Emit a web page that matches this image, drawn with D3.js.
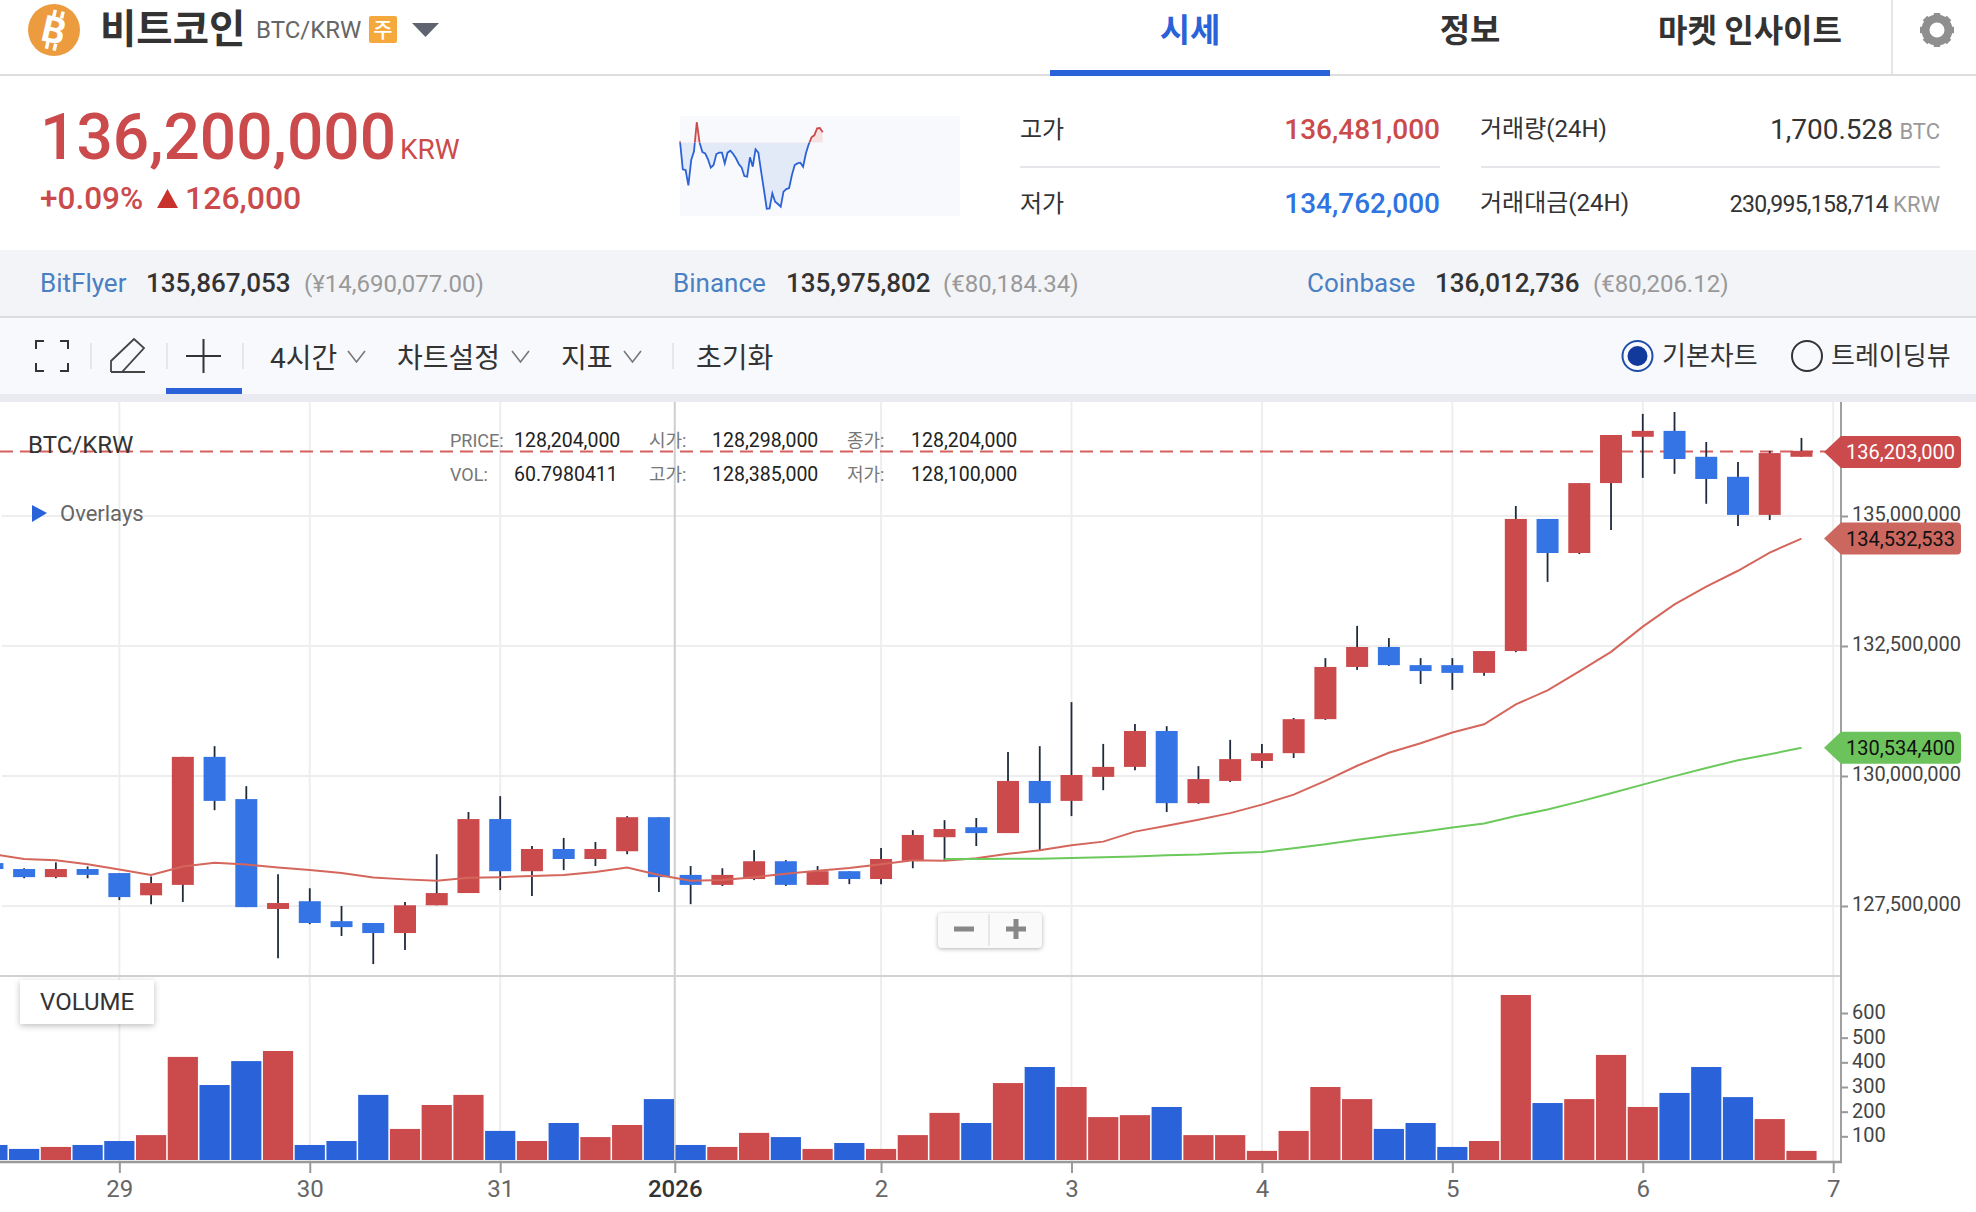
<!DOCTYPE html>
<html>
<head>
<meta charset="utf-8">
<script src="https://d3js.org/d3.v7.min.js"></script>
<style>
  html, body { margin: 0; padding: 0; background: #fff; }
  svg { display: block; }
  text { font-family: Roboto, "Noto Sans CJK KR", sans-serif; }
  .axis text { font-family: Roboto, sans-serif; }
</style>
</head>
<body>
<svg id="page" width="1976" height="1212"></svg>
<script>
// all prices in million KRW, one entry per 4h bar, bar 0 is cut by the left edge
const opens = [128.325,128.211,128.055,128.211,128.133,127.706,127.906,130.368,129.556,127.443,127.592,127.208,127.173,126.980,127.514,127.749,129.172,128.169,128.596,128.404,128.553,129.208,128.098,127.906,128.019,128.361,127.906,128.169,128.019,128.368,128.823,129.015,128.902,129.905,129.521,129.983,130.175,130.866,129.478,129.905,130.289,130.439,131.093,132.097,132.481,132.132,132.132,131.983,132.403,134.943,134.288,135.633,136.523,136.637,136.139,135.754,135.021,136.139];
const closes = [128.211,128.055,128.211,128.098,127.671,127.941,130.368,129.521,127.478,127.557,127.173,127.094,126.980,127.514,127.749,129.172,128.169,128.596,128.404,128.596,129.208,128.055,127.906,128.098,128.361,127.906,128.169,128.019,128.404,128.866,128.980,128.902,129.905,129.478,130.019,130.175,130.866,129.478,129.941,130.325,130.439,131.093,132.097,132.481,132.132,132.018,131.983,132.403,134.943,134.288,135.633,136.558,136.637,136.096,135.712,135.021,136.210,136.252];
const highs = [128.325,128.226,128.339,128.261,128.133,128.069,130.368,130.574,129.805,128.112,127.841,127.500,127.173,127.578,128.496,129.307,129.613,128.653,128.809,128.731,129.229,129.208,128.268,128.226,128.574,128.382,128.268,128.169,128.617,128.959,129.151,129.193,130.460,130.574,131.421,130.617,131.001,130.958,130.190,130.695,130.617,131.115,132.267,132.887,132.652,132.267,132.267,132.403,135.192,134.943,135.633,136.558,136.964,137.000,136.423,136.039,136.252,136.501];
const lows = [128.211,128.034,128.034,128.034,127.614,127.535,127.578,129.343,127.478,126.497,127.151,126.923,126.383,126.653,127.514,127.749,127.806,127.692,128.190,128.268,128.496,127.770,127.535,127.884,127.998,127.884,127.906,127.920,127.920,128.226,128.382,128.653,128.902,128.574,129.229,129.727,130.111,129.307,129.464,129.884,130.154,130.346,131.079,132.040,132.118,131.769,131.656,131.926,132.381,133.733,134.267,134.730,135.733,135.811,135.235,134.808,134.922,136.139];
const volumes = [65,49,57,65,81,105,422,308,405,446,65,81,268,130,227,268,122,81,154,97,146,251,65,57,114,97,49,73,49,105,195,154,316,381,300,178,186,219,105,105,41,122,300,251,130,154,57,81,673,235,251,430,219,276,381,259,170,41];
const maRed = [128.496,128.404,128.382,128.304,128.204,128.098,128.261,128.332,128.297,128.240,128.190,128.133,128.048,128.012,127.984,128.041,128.055,128.076,128.098,128.155,128.240,128.098,127.984,127.998,128.055,128.119,128.176,128.233,128.304,128.382,128.368,128.418,128.503,128.574,128.667,128.738,128.930,129.044,129.158,129.286,129.450,129.642,129.905,130.197,130.446,130.631,130.837,130.994,131.378,131.648,132.011,132.388,132.872,133.299,133.641,133.947,134.296,134.566];
const maGreenStart = 30;
const maGreen = [128.404,128.404,128.411,128.411,128.425,128.439,128.453,128.475,128.489,128.517,128.539,128.610,128.688,128.774,128.852,128.923,129.008,129.087,129.229,129.357,129.507,129.670,129.834,129.998,130.154,130.304,130.417,130.545];

const priceTicks = [135, 132.5, 130, 127.5];
const volumeTicks = [100, 200, 300, 400, 500, 600];
const dayTickBars = [4, 10, 16, 21.5, 28, 34, 40, 46, 52, 58];
const dayTickLabels = ['29', '30', '31', '2026', '2', '3', '4', '5', '6', '7'];

const sparkValues = [136.098,135.542,135.529,135.225,135.727,135.899,136.481,136.071,135.886,135.860,135.741,135.575,135.628,135.846,135.873,135.873,135.661,135.873,135.913,135.846,135.761,135.648,135.582,135.410,135.397,135.780,135.595,135.939,135.873,135.496,135.133,134.762,134.769,135.066,134.901,134.855,134.802,135.100,135.152,135.172,135.430,135.628,135.661,135.675,135.595,135.860,136.038,136.177,136.217,136.355,136.362,136.276];
const sparkPrevClose = 136.074;

const RED = '#cb4a4c', BLUE = '#3574e4', VOL_BLUE = '#2962d9', ACCENT = '#2962d9';
const KR = '"Noto Sans CJK KR", sans-serif';

const svg = d3.select('#page');

function label(x, y, str, o = {}) {
  return svg.append('text')
    .attr('x', x).attr('y', y)
    .attr('text-anchor', o.anchor || 'start')
    .attr('font-size', o.size || 24)
    .attr('font-weight', o.weight || 400)
    .attr('fill', o.fill || '#333')
    .style('font-family', o.family || null)
    .style('letter-spacing', o.spacing || null)
    .text(str);
}
function box(x, y, w, h, fill) {
  return svg.append('rect').attr('x', x).attr('y', y).attr('width', w).attr('height', h).attr('fill', fill);
}
function rule(x1, y1, x2, y2, stroke, width = 2) {
  return svg.append('line').attr('x1', x1).attr('y1', y1).attr('x2', x2).attr('y2', y2)
    .attr('stroke', stroke).attr('stroke-width', width);
}

// ---- header
box(0, 74, 1976, 2, '#dddddd');
svg.append('circle').attr('cx', 54).attr('cy', 30).attr('r', 26).attr('fill', '#ec9c3f');
const coin = svg.append('g').attr('transform', 'translate(54,30) rotate(13)');
coin.append('text').attr('text-anchor', 'middle').attr('y', 13).attr('font-size', 37).attr('font-weight', 700)
  .attr('fill', '#fff').text('B');
[[-5, -20], [3, -20], [-5, 13], [3, 13]].forEach(p => {
  coin.append('rect').attr('x', p[0]).attr('y', p[1]).attr('width', 3.5).attr('height', 7).attr('fill', '#fff');
});

label(100, 43, '비트코인', {size: 39.5, weight: 700, family: KR});
label(256, 38, 'BTC/KRW', {size: 24, fill: '#666'});
svg.append('rect').attr('x', 369).attr('y', 16).attr('width', 28).attr('height', 27).attr('rx', 2).attr('fill', '#f5a83b');
label(383, 37, '주', {size: 21, weight: 500, fill: '#fff', anchor: 'middle', family: KR});
svg.append('path').attr('d', 'M412,23H439L425.5,37Z').attr('fill', '#5f6470');

label(1190, 42, '시세', {size: 33, weight: 700, fill: ACCENT, anchor: 'middle', family: KR});
label(1470, 42, '정보', {size: 33, weight: 700, anchor: 'middle', family: KR});
label(1750, 42, '마켓 인사이트', {size: 32, weight: 700, anchor: 'middle', family: KR});
box(1050, 70, 280, 6, ACCENT);
rule(1892, 0, 1892, 74, '#dddddd', 1.5);

const gear = svg.append('g').attr('transform', 'translate(1937,30)');
gear.append('circle').attr('r', 11.5).attr('fill', 'none').attr('stroke', '#8f8f8f').attr('stroke-width', 8);
d3.range(8).forEach(i => {
  gear.append('rect').attr('x', -3.2).attr('y', -17).attr('width', 6.4).attr('height', 7).attr('fill', '#8f8f8f')
    .attr('transform', `rotate(${i * 45})`);
});

// ---- price summary
label(40, 159, '136,200,000', {size: 64, weight: 500, fill: RED});
label(400, 159, 'KRW', {size: 28, fill: RED});
label(40, 209, '+0.09%', {size: 31.5, weight: 500, fill: RED});
svg.append('path').attr('d', 'M167.5,189L178,208H157Z').attr('fill', '#c9322c');
label(185, 209, '126,000', {size: 32, weight: 500, fill: RED});

// sparkline
box(680, 116, 280, 100, '#f8f9fc');
const sx = d3.scaleLinear().domain([0, sparkValues.length - 1]).range([680, 822.7]);
const sy = d3.scaleLinear().domain([134.762, 136.481]).range([208.7, 122]);
const baseY = sy(sparkPrevClose);
const defs = svg.append('defs');
defs.append('clipPath').attr('id', 'sparkUp').append('rect').attr('x', 670).attr('y', 110).attr('width', 300).attr('height', baseY - 110);
defs.append('clipPath').attr('id', 'sparkDown').append('rect').attr('x', 670).attr('y', baseY).attr('width', 300).attr('height', 110);
const sparkArea = d3.area().x((d, i) => sx(i)).y0(baseY).y1(d => sy(d));
const sparkLine = d3.line().x((d, i) => sx(i)).y(d => sy(d));
[['sparkDown', '#e2e9f7', '#2b62d6'], ['sparkUp', '#f5e3e4', '#cb4a4c']].forEach(s => {
  const g = svg.append('g').attr('clip-path', `url(#${s[0]})`);
  g.append('path').datum(sparkValues).attr('d', sparkArea).attr('fill', s[1]);
  g.append('path').datum(sparkValues).attr('d', sparkLine).attr('fill', 'none').attr('stroke', s[2]).attr('stroke-width', 1.8);
});

// stats table
label(1020, 138, '고가', {size: 24, family: KR});
label(1440, 139, '136,481,000', {size: 28, weight: 500, fill: RED, anchor: 'end'});
box(1020, 166, 420, 2, '#e4e6ea');
label(1020, 212, '저가', {size: 24, family: KR});
label(1440, 213, '134,762,000', {size: 28, weight: 500, fill: '#2f74e0', anchor: 'end'});
label(1480, 137, '거래량(24H)', {size: 24});
label(1893, 139, '1,700.528', {size: 28, anchor: 'end'});
label(1940, 139, 'BTC', {size: 22, fill: '#999', anchor: 'end'});
box(1481, 166, 459, 2, '#e4e6ea');
label(1480, 211, '거래대금(24H)', {size: 24});
label(1888, 212, '230,995,158,714', {size: 23, anchor: 'end', spacing: '-0.7px'});
label(1940, 212, 'KRW', {size: 22, fill: '#999', anchor: 'end'});

// ---- exchange strip
box(0, 250, 1976, 66, '#f3f4f7');
box(0, 316, 1976, 2, '#dcdde1');
[[40, 146, 304, 'BitFlyer', '135,867,053', '(¥14,690,077.00)'],
 [673, 786, 943, 'Binance', '135,975,802', '(€80,184.34)'],
 [1307, 1435, 1593, 'Coinbase', '136,012,736', '(€80,206.12)']].forEach(r => {
  label(r[0], 292, r[3], {size: 26, fill: '#4a7fc4'});
  label(r[1], 292, r[4], {size: 26, weight: 500});
  label(r[2], 292, r[5], {size: 24, fill: '#999'});
});

// ---- toolbar
box(0, 318, 1976, 76, '#f8f9fc');
box(0, 394, 1976, 8, '#e9ebf0');
box(166, 388, 76, 6, ACCENT);
[91, 167, 243, 673].forEach(x => rule(x, 343, x, 369, '#dfe1e6', 1.5));
svg.append('path').attr('d', 'M36,349V341H44M60,341H68V349M36,363V371H44M60,371H68V363')
  .attr('fill', 'none').attr('stroke', '#333').attr('stroke-width', 2);
svg.append('path').attr('d', 'M111,372V361L134,339L144,348L122,372H111M111,372H145')
  .attr('fill', 'none').attr('stroke', '#444').attr('stroke-width', 1.8);
svg.append('path').attr('d', 'M186,356H221M203.5,339V373').attr('fill', 'none').attr('stroke', '#333').attr('stroke-width', 2);
label(270, 368, '4시간', {size: 28});
label(397, 368, '차트설정', {size: 28, family: KR});
label(561, 368, '지표', {size: 28, family: KR});
label(696, 368, '초기화', {size: 28, family: KR});
[[348, 365], [512, 529], [624, 641]].forEach(c => {
  svg.append('path').attr('d', `M${c[0]},351L${(c[0] + c[1]) / 2},362L${c[1]},351`)
    .attr('fill', 'none').attr('stroke', '#777').attr('stroke-width', 1.6);
});
svg.append('circle').attr('cx', 1637.5).attr('cy', 356).attr('r', 15).attr('fill', 'none').attr('stroke', '#1f4fa8').attr('stroke-width', 2);
svg.append('circle').attr('cx', 1637.5).attr('cy', 356).attr('r', 10).attr('fill', '#123a9c');
label(1662, 365, '기본차트', {size: 26, family: KR});
svg.append('circle').attr('cx', 1807).attr('cy', 356).attr('r', 15).attr('fill', 'none').attr('stroke', '#333').attr('stroke-width', 2);
label(1831, 365, '트레이딩뷰', {size: 26, family: KR});

// ---- chart scales
const x = d3.scaleLinear().domain([0, 58]).range([-7.6, 1833.2]);
const y = d3.scaleLinear().domain([127.5, 135]).range([906, 516]);
const yVol = d3.scaleLinear().domain([0, 600]).range([1161, 1013]);
const AXIS_X = 1841, PANE_TOP = 402, PANE_SPLIT = 976, BASE_Y = 1161;

// grid
priceTicks.forEach(v => rule(2, y(v), AXIS_X, y(v), '#eeeeee'));
dayTickBars.forEach((b, i) => {
  rule(x(b), PANE_TOP, x(b), BASE_Y, dayTickLabels[i] === '2026' ? '#cfcfcf' : '#eeeeee');
});

// price reference line sits behind the candles
const lastPriceY = y(136.24);
svg.append('line').attr('x1', 0).attr('x2', 1826).attr('y1', lastPriceY).attr('y2', lastPriceY)
  .attr('stroke', '#d5615f').attr('stroke-width', 2).attr('stroke-dasharray', '13 7');

// candles
const bars = opens.map((o, i) => ({i, o, c: closes[i], h: highs[i], l: lows[i], v: volumes[i]}));
svg.append('g').selectAll('line').data(bars).join('line')
  .attr('x1', d => x(d.i)).attr('x2', d => x(d.i))
  .attr('y1', d => y(d.h)).attr('y2', d => y(d.l))
  .attr('stroke', '#1f2a3d').attr('stroke-width', 1.8);
svg.append('g').selectAll('rect').data(bars).join('rect')
  .attr('x', d => x(d.i) - 11).attr('width', 22)
  .attr('y', d => y(Math.max(d.o, d.c)))
  .attr('height', d => Math.abs(y(d.o) - y(d.c)))
  .attr('fill', d => d.c >= d.o ? RED : BLUE);

// moving averages
const maLine = d3.line().x(d => x(d[0])).y(d => y(d[1]));
svg.append('path').attr('d', maLine(maRed.map((v, i) => [i, v])))
  .attr('fill', 'none').attr('stroke', '#d5665c').attr('stroke-width', 2);
svg.append('path').attr('d', maLine(maGreen.map((v, i) => [i + maGreenStart, v])))
  .attr('fill', 'none').attr('stroke', '#6cc95c').attr('stroke-width', 2);

// volume bars
svg.append('g').selectAll('rect').data(bars).join('rect')
  .attr('x', d => x(d.i) - 15.1).attr('width', 30.2)
  .attr('y', d => yVol(d.v) )
  .attr('height', d => yVol(0) - 1 - yVol(d.v))
  .attr('fill', d => d.c >= d.o ? RED : VOL_BLUE);

// frame of the panes
rule(0, PANE_SPLIT, AXIS_X, PANE_SPLIT, '#d2d2d2');
rule(0, BASE_Y + 1, AXIS_X + 1, BASE_Y + 1, '#999999', 2.5);
rule(AXIS_X, PANE_TOP, AXIS_X, BASE_Y + 1, '#a0a0a0');

// axes
const yAxis = svg.append('g').attr('class', 'axis').attr('transform', `translate(${AXIS_X},0)`)
  .call(d3.axisRight(y).tickValues(priceTicks).tickFormat(d => d3.format(',')(d * 1e6)).tickSize(7).tickPadding(4));
const volAxis = svg.append('g').attr('class', 'axis').attr('transform', `translate(${AXIS_X},0)`)
  .call(d3.axisRight(yVol).tickValues(volumeTicks).tickSize(7).tickPadding(4));
const xAxis = svg.append('g').attr('class', 'axis').attr('transform', `translate(0,${BASE_Y})`)
  .call(d3.axisBottom(x).tickValues(dayTickBars).tickFormat((d, i) => dayTickLabels[i]).tickSize(12).tickPadding(7));
[yAxis, volAxis, xAxis].forEach(a => {
  a.select('.domain').remove();
  a.selectAll('.tick line').attr('stroke', '#999').attr('stroke-width', 2);
});
yAxis.selectAll('text').attr('font-size', 20).attr('fill', '#444').attr('dy', '0.2em').style('font-family', 'Roboto');
volAxis.selectAll('text').attr('font-size', 20).attr('fill', '#444').attr('dy', '0.27em').style('font-family', 'Roboto');
xAxis.selectAll('text').attr('font-size', 24).attr('fill', d => d === 21.5 ? '#333' : '#666')
  .attr('font-weight', d => d === 21.5 ? 500 : 400).style('font-family', 'Roboto');

// price tags on the axis
const tagValues = [136.231, 134.566, 130.545];
const tagLabels = ['136,203,000', '134,532,533', '130,534,400'];
const tagFills = ['#cb4a4c', '#cb675f', '#6cc35c'];
const tagInk = ['#fff', '#111', '#111'];
tagValues.forEach((v, i) => {
  const c = y(v);
  svg.append('path')
    .attr('d', `M1824,${c}L1841,${c - 16}H1957q4,0 4,4V${c + 12}q0,4 -4,4H1841Z`)
    .attr('fill', tagFills[i]);
  label(1846, c + 7, tagLabels[i], {size: 20, fill: tagInk[i]});
});

// chart legend
label(28, 453, 'BTC/KRW', {size: 24});
[[450, 514, 447, 'PRICE:', '128,204,000'], [450, 514, 481, 'VOL:', '60.7980411'],
 [649, 712, 447, '시가:', '128,298,000'], [649, 712, 481, '고가:', '128,385,000'],
 [847, 911, 447, '종가:', '128,204,000'], [847, 911, 481, '저가:', '128,100,000']].forEach(r => {
  label(r[0], r[2], r[3], {size: 18, fill: '#777'});
  label(r[1], r[2], r[4], {size: 19.5, fill: '#222'});
});
svg.append('path').attr('d', 'M32,505L47,513L32,522Z').attr('fill', ACCENT);
label(60, 521, 'Overlays', {size: 22, fill: '#666'});

// zoom buttons
svg.append('rect').attr('x', 938).attr('y', 913).attr('width', 104).attr('height', 35).attr('rx', 4)
  .attr('fill', '#fafafa').style('filter', 'drop-shadow(0 1px 2px rgba(0,0,0,.3))');
rule(989, 914, 989, 946, '#e0e0e0', 1.5);
box(954, 926.5, 20, 5, '#888');
box(1006, 926.5, 20, 5, '#888');
box(1013.5, 919, 5, 20, '#888');

// volume badge
svg.append('rect').attr('x', 20).attr('y', 980).attr('width', 134).attr('height', 44)
  .attr('fill', '#fff').style('filter', 'drop-shadow(0 2px 3px rgba(0,0,0,.25))');
label(40, 1010, 'VOLUME', {size: 24});
</script>
</body>
</html>
